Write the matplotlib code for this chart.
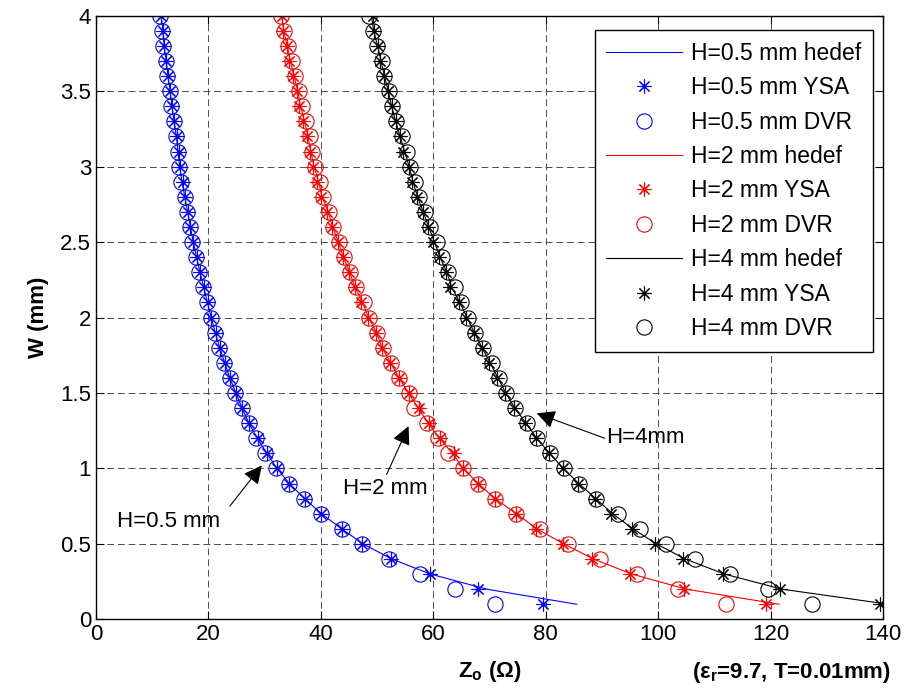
import matplotlib
matplotlib.use("Agg")
import matplotlib.pyplot as plt

plt.rcParams['font.family'] = ['Liberation Sans', 'DejaVu Sans']
plt.rcParams['mathtext.fontset'] = 'custom'
plt.rcParams['mathtext.rm'] = 'Liberation Sans'
plt.rcParams['mathtext.bf'] = 'Liberation Sans:bold'

# Genişlik W (mm), 0.1 ... 4.0
W = [0.1, 0.2, 0.3, 0.4, 0.5, 0.6, 0.7, 0.8, 0.9, 1.0,
     1.1, 1.2, 1.3, 1.4, 1.5, 1.6, 1.7, 1.8, 1.9, 2.0,
     2.1, 2.2, 2.3, 2.4, 2.5, 2.6, 2.7, 2.8, 2.9, 3.0,
     3.1, 3.2, 3.3, 3.4, 3.5, 3.6, 3.7, 3.8, 3.9, 4.0]

# H=0.5 mm
z05_hedef = [85.5, 69.5, 59.5, 52.6, 47.5, 43.7, 40.1, 37.1, 34.4, 32.2,
             30.4, 28.7, 27.2, 26.0, 24.9, 23.8, 22.9, 22.0, 21.2, 20.5,
             19.8, 19.2, 18.5, 17.9, 17.3, 16.8, 16.3, 15.8, 15.3, 14.9,
             14.6, 14.3, 13.9, 13.5, 13.2, 12.8, 12.5, 12.1, 11.9, 11.6]
z05_ysa = [79.6, 68.0, 59.4, 52.5, 47.4, 43.8, 40.1, 37.1, 34.4, 32.2,
           30.5, 28.8, 27.3, 26.0, 24.9, 23.9, 23.0, 22.1, 21.3, 20.5,
           19.9, 19.2, 18.5, 17.9, 17.3, 16.8, 16.4, 15.9, 15.4, 15.0,
           14.7, 14.4, 13.9, 13.5, 13.2, 12.8, 12.5, 12.1, 11.9, 11.6]
z05_dvr = [70.9, 63.9, 57.7, 52.2, 47.4, 43.7, 40.0, 37.0, 34.3, 32.1,
           30.1, 28.4, 27.2, 25.9, 24.8, 23.8, 22.8, 21.9, 21.1, 20.5,
           19.8, 19.1, 18.4, 17.8, 17.1, 16.7, 16.2, 15.8, 15.2, 14.8,
           14.5, 14.2, 13.8, 13.4, 13.1, 12.6, 12.4, 12.0, 11.8, 11.4]

# H=2 mm
z2_hedef = [121.5, 105.0, 95.3, 88.5, 83.2, 78.4, 74.8, 71.0, 68.0, 65.3,
            63.4, 61.1, 59.1, 57.3, 55.6, 53.9, 52.4, 50.9, 49.9, 48.5,
            47.4, 46.1, 45.1, 44.0, 43.1, 42.1, 41.3, 40.2, 39.6, 38.8,
            38.2, 37.7, 37.1, 36.4, 35.9, 35.2, 34.6, 34.0, 33.4, 33.0]
z2_ysa = [119.1, 104.6, 95.0, 88.3, 83.0, 78.2, 74.8, 71.0, 68.0, 65.3,
          63.6, 61.2, 59.2, 57.5, 55.6, 53.9, 52.3, 50.8, 49.8, 48.4,
          47.2, 46.0, 45.0, 43.9, 43.0, 42.0, 41.1, 40.1, 39.4, 38.6,
          38.0, 37.5, 36.9, 36.2, 35.7, 35.0, 34.4, 33.9, 33.3, 33.0]
z2_dvr = [112.0, 103.6, 96.2, 89.6, 83.9, 79.0, 74.8, 71.0, 68.0, 65.3,
          62.7, 60.9, 58.8, 56.6, 55.6, 53.9, 52.5, 51.0, 50.0, 48.6,
          47.6, 46.3, 45.2, 44.2, 43.3, 42.2, 41.5, 40.4, 39.9, 39.0,
          38.5, 38.1, 37.4, 36.7, 36.2, 35.4, 34.8, 34.1, 33.5, 32.9]

# H=4 mm
z4_hedef = [141.0, 122.0, 111.8, 104.8, 99.7, 95.5, 91.9, 88.9, 85.9, 83.1,
            80.7, 78.4, 76.5, 74.5, 72.9, 71.5, 70.1, 68.7, 67.3, 66.0,
            64.7, 63.3, 62.4, 61.2, 60.2, 59.2, 58.2, 57.2, 56.4, 55.7,
            54.9, 54.1, 53.3, 52.6, 52.0, 51.3, 50.7, 50.1, 49.4, 49.0]
z4_ysa = [139.4, 121.7, 111.5, 104.5, 99.5, 95.3, 91.7, 88.8, 85.8, 83.0,
          80.6, 78.3, 76.4, 74.4, 72.8, 71.4, 70.0, 68.6, 67.2, 65.9,
          64.5, 63.0, 62.3, 61.1, 60.0, 59.1, 58.1, 57.1, 56.2, 55.6,
          54.7, 54.0, 53.3, 52.6, 52.0, 51.3, 50.6, 50.2, 49.5, 49.2]
z4_dvr = [127.3, 119.6, 112.8, 106.6, 101.4, 96.7, 92.8, 89.0, 86.0, 83.2,
          80.8, 78.5, 76.6, 74.6, 73.0, 71.7, 70.4, 68.9, 67.4, 66.2,
          64.9, 63.9, 62.7, 61.5, 60.6, 59.5, 58.5, 57.5, 56.8, 55.9,
          55.3, 54.4, 53.4, 52.7, 52.2, 51.3, 50.8, 49.9, 49.2, 48.5]

seriler = [
    ("H=0.5 mm", "blue", z05_hedef, z05_ysa, z05_dvr),
    ("H=2 mm", "red", z2_hedef, z2_ysa, z2_dvr),
    ("H=4 mm", "black", z4_hedef, z4_ysa, z4_dvr),
]

fig = plt.figure(figsize=(9.09, 6.92), dpi=100)
ax = fig.add_axes([0.1056, 0.105, 0.8658, 0.8723])

yildiz = (8, 2, 0)  # MATLAB tarzı asterisk
for ad, renk, hedef, ysa, dvr in seriler:
    ax.plot(hedef, W, '-', color=renk, lw=0.8, label=ad + " hedef")
    ax.plot(ysa, W, linestyle='none', marker=yildiz, markersize=10,
            markeredgewidth=0.8, color=renk, label=ad + " YSA")
    ax.plot(dvr, W, linestyle='none', marker='o', markersize=11,
            markerfacecolor='none', markeredgewidth=0.8, color=renk,
            label=ad + " DVR")

ax.set_xlim(0, 140)
ax.set_ylim(0, 4)
ax.set_xticks(range(0, 141, 20))
ax.set_yticks([0, 0.5, 1, 1.5, 2, 2.5, 3, 3.5, 4])
ax.set_yticklabels(["0", "0.5", "1", "1.5", "2", "2.5", "3", "3.5", "4"])
ax.tick_params(direction='in', top=True, right=True, length=6,
               labelsize=16, width=0.8)
ax.grid(True, color='0.3', linestyle=(0, (7, 4)), linewidth=0.7)
for s in ax.spines.values():
    s.set_linewidth(1.0)

ax.set_ylabel("W (mm)", fontsize=16, fontweight='bold', labelpad=8)
ax.set_xlabel(r"Z$_\mathbf{o}$ (Ω)", fontsize=16, fontweight='bold', labelpad=10)
fig.text(0.98, 0.028, r"(ε$_\mathbf{r}$=9.7, T=0.01mm)", fontsize=16,
         fontweight='bold', ha='right', va='center')

# oklar ve açıklamalar
ok = dict(arrowstyle='-|>', mutation_scale=28, lw=0.8, color='black',
          shrinkA=0, shrinkB=0)
ax.annotate("", xy=(29.5, 1.02), xytext=(23.8, 0.75), arrowprops=ok)
ax.text(12.9, 0.65, "H=0.5 mm", fontsize=16, ha='center', va='center')
ax.annotate("", xy=(55.6, 1.28), xytext=(51.7, 0.96), arrowprops=ok)
ax.text(51.4, 0.87, "H=2 mm", fontsize=16, ha='center', va='center')
ax.annotate("", xy=(78.4, 1.365), xytext=(90.5, 1.2), arrowprops=ok)
ax.text(90.7, 1.205, "H=4mm", fontsize=16, ha='left', va='center')

leg = ax.legend(loc='upper right', bbox_to_anchor=(0.987, 0.976),
                borderaxespad=0, fontsize=16.5, handlelength=3.3,
                handletextpad=0.4, labelspacing=0.5, fancybox=False,
                framealpha=1, edgecolor='black', borderpad=0.5)
leg.get_frame().set_linewidth(1.0)

fig.savefig("out.png", dpi=100)
